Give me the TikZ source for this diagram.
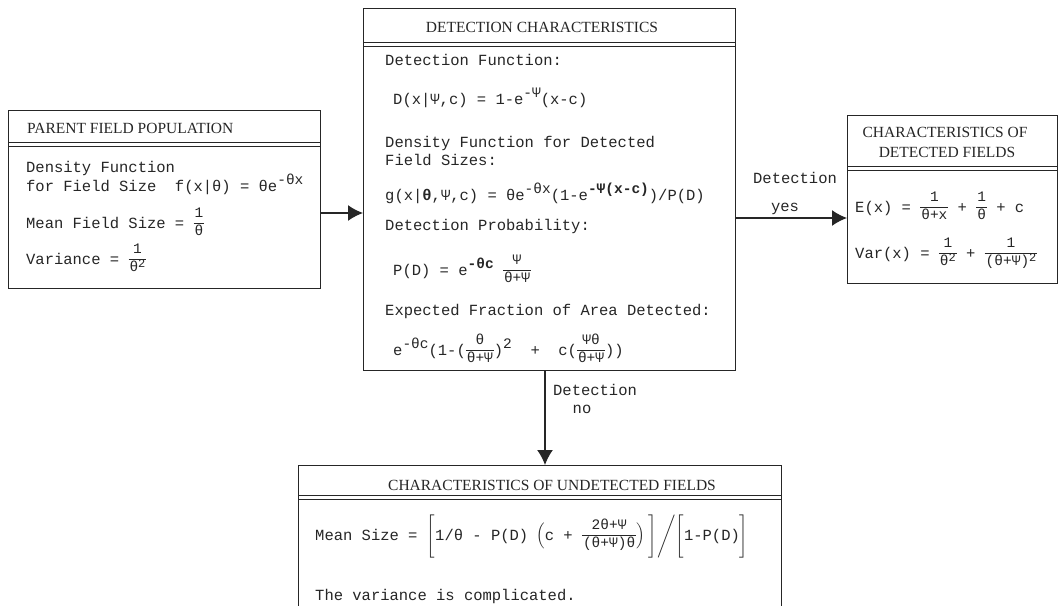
\RequirePackage{fix-cm}
\documentclass[tikz,border=0pt]{standalone}
\usepackage{amsmath}
\usepackage{fontspec}
\setmainfont{Liberation Serif}
\setmonofont{Liberation Mono}
\usetikzlibrary{arrows.meta}
\definecolor{ink}{gray}{0.15}
\newcommand\bodyf{\ttfamily\fontsize{15.5}{18}\selectfont}
\newcommand\headf{\rmfamily\fontsize{15.5}{20}\selectfont}
\newcommand\fsm{\ttfamily\fontsize{14.5}{16}\selectfont}
\newcommand\sps[1]{\raisebox{7pt}{\fsm #1}}
\newcommand\sqr{\raisebox{4pt}{\ttfamily\fontsize{12}{12}\selectfont 2}}
\newcommand\fr[2]{{\fsm\setbox0\hbox{#1}\setbox2\hbox{#2}%
 \ht0=9pt \dp0=2.5pt \ht2=9pt \dp2=2.5pt
 \dimen0=\wd0 \ifdim\wd2>\dimen0 \dimen0=\wd2 \fi \advance\dimen0 by 2pt
 \lower7.35pt\vbox{\hbox to\dimen0{\hss\box0\hss}\kern3pt\hrule height0.7pt\kern3pt\hbox to\dimen0{\hss\box2\hss}}}}
\begin{document}
\begin{tikzpicture}[x=1pt,y=-1pt,
  box/.style={draw=ink, line width=1pt, anchor=north west, inner sep=0pt},
  dl/.style={draw=ink, line width=1pt},
  arr/.style={draw=ink, line width=1.5pt, -{Latex[length=15pt,width=16pt]}},
  tx/.style={anchor=base west, inner sep=0pt, font=\bodyf, text=ink},
  lb/.style={anchor=base, inner sep=0pt, font=\bodyf, text=ink},
  hd/.style={anchor=base, inner sep=0pt, font=\headf, text=ink}]
\fill[white] (0,0) rectangle (1060,605);
\useasboundingbox (0,0) rectangle (1060,605);

% ---------- boxes ----------
\node[box, minimum width=312pt, minimum height=178pt] (pp) at (8,110) {};
\node[box, minimum width=372pt, minimum height=362pt] (dc) at (363,8) {};
\node[box, minimum width=210pt, minimum height=168pt] (df) at (847,115) {};
\node[box, minimum width=483pt, minimum height=150pt] (uf) at (298,465) {};

% double rules under titles
\draw[dl] (pp.west |- 0,142) -- (pp.east |- 0,142);
\draw[dl] (pp.west |- 0,146) -- (pp.east |- 0,146);
\draw[dl] (dc.west |- 0,42) -- (dc.east |- 0,42);
\draw[dl] (dc.west |- 0,46) -- (dc.east |- 0,46);
\draw[dl] (df.west |- 0,166) -- (df.east |- 0,166);
\draw[dl] (df.west |- 0,170) -- (df.east |- 0,170);
\draw[dl] (uf.west |- 0,495) -- (uf.east |- 0,495);
\draw[dl] (uf.west |- 0,499) -- (uf.east |- 0,499);

% ---------- titles ----------
\node[hd, anchor=base west] (t1) at (27,133) {PARENT FIELD POPULATION};
\node[hd] (t2) at (542,32) {DETECTION CHARACTERISTICS};
\node[hd] (t3a) at (945,137) {CHARACTERISTICS OF};
\node[hd] (t3b) at (947,157) {DETECTED FIELDS};
\node[hd] (t4) at (552,490) {CHARACTERISTICS OF UNDETECTED FIELDS};

% ---------- parent field population ----------
\node[tx] (p1) at (26,172) {Density Function};
\node[tx] (p2) at (26,191) {for Field Size\ \ f(x|θ) = θe\sps{-θx}};
\node[tx] (p3) at (26,228) {Mean Field Size = \fr{1}{θ}};
\node[tx] (p4) at (26,264) {Variance = \fr{1}{θ\sqr}};

% ---------- detection characteristics ----------
\node[tx] (d1) at (385,65) {Detection Function:};
\node[tx] (d2) at (393,104) {D(x|Ψ,c) = 1-e\sps{-Ψ}(x-c)};
\node[tx] (d3) at (385,147) {Density Function for Detected};
\node[tx] (d4) at (385,165) {Field Sizes:};
\node[tx] (d5) at (385,200) {g(x|\textbf{θ},Ψ,c) = θe\sps{-θx}(1-e\sps{\bfseries -Ψ(x-c)})/P(D)};
\node[tx] (d6) at (385,230) {Detection Probability:};
\node[tx] (d7) at (393,275) {P(D) = e\sps{\bfseries -θc} \fr{Ψ}{θ+Ψ}};
\node[tx] (d8) at (385,315) {Expected Fraction of Area Detected:};
\node[tx] (d9) at (393,355) {e\sps{-θc}(1-(\fr{θ}{θ+Ψ})\sps{2}\ \ +\ \ c(\fr{Ψθ}{θ+Ψ}))};

% ---------- detected fields ----------
\node[tx] (e1) at (855,212) {E(x) = \fr{1}{θ+x} + \fr{1}{θ} + c};
\node[tx] (e2) at (855,258) {Var(x) = \fr{1}{θ\sqr} + \fr{1}{(θ+Ψ)\sqr}};

% ---------- undetected fields ----------
\node[tx] (u1) at (315,540) {Mean Size = $\Bigg[$1/θ - P(D)\hspace{8pt}$\Big($c + \fr{2θ+Ψ}{(θ+Ψ)θ}$\Big)$\hspace{4pt}$\Bigg]\Bigg/\Bigg[$1-P(D)$\Bigg]$};
\node[tx] (u2) at (315,600) {The variance is complicated.};

% ---------- connectors ----------
\draw[arr] (pp.east |- 0,213) -- (dc.west |- 0,213);
\draw[arr] (dc.east |- 0,218) -- (df.west |- 0,218);
\draw[arr] (dc.south -| 545,0) -- (uf.north -| 545,0);

% ---------- connector labels ----------
\node[lb] (ly1) at (795,183) {Detection};
\node[lb] (ly2) at (785,211) {yes};
\node[lb] (ln1) at (595,395) {Detection};
\node[lb] (ln2) at (582,413) {no};
\end{tikzpicture}
\end{document}
